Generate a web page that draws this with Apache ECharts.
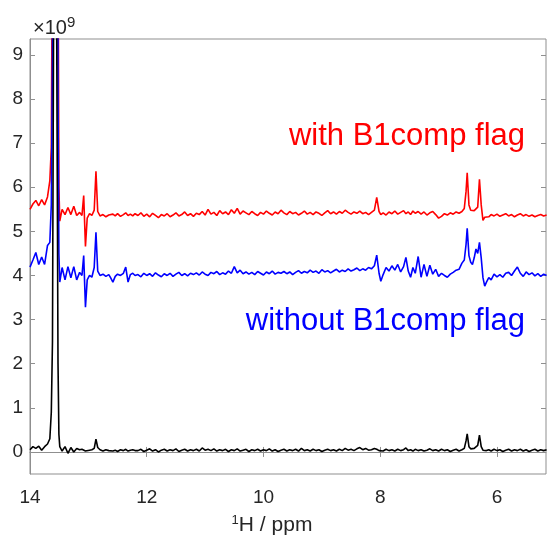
<!DOCTYPE html>
<html>
<head>
<meta charset="utf-8">
<script src="https://cdn.jsdelivr.net/npm/echarts@6/dist/echarts.min.js"></script>
<style>
html,body{margin:0;padding:0;background:#fff;}
#chart{width:547px;height:536px;}
</style>
</head>
<body>
<div id="chart"></div>
<script>
// chemical shift (ppm), shared by all traces
const ppm = [
14.00,13.95,13.90,13.85,13.80,13.75,13.70,13.66,13.635,13.615,13.59,13.57,13.55,13.52,13.505,13.49,13.45,13.40,13.35,13.30,13.25,13.20,13.15,13.11,13.08,13.05,13.02,12.98,12.94,12.90,12.87,12.84,12.80,12.75,12.70,12.65,12.62,12.58,12.54,12.50,12.45,12.40,12.36,12.32,12.28,12.24,12.20,
12.15,12.10,12.05,12.00,11.95,11.90,11.85,11.80,11.75,11.70,
11.65,11.60,11.55,11.50,11.45,11.40,11.35,11.30,11.25,11.20,
11.15,11.10,11.05,11.00,10.95,10.90,10.85,10.80,10.75,10.70,
10.65,10.60,10.55,10.50,10.45,10.40,10.35,10.30,10.25,10.20,
10.15,10.10,10.05,10.00,9.95,9.90,9.85,9.80,9.75,9.70,
9.65,9.60,9.55,9.50,9.45,9.40,9.35,9.30,9.25,9.20,
9.15,9.10,9.05,9.00,8.95,8.90,8.85,8.80,8.75,8.70,
8.65,8.60,8.55,8.50,8.45,8.40,8.35,8.30,8.25,8.20,
8.15,8.10,8.06,8.02,7.99,7.95,7.90,7.85,7.80,7.75,7.70,7.65,7.60,7.56,7.52,7.48,7.44,7.40,7.35,7.30,7.25,7.20,7.15,7.10,7.05,7.00,6.95,6.90,6.85,6.80,6.75,6.70,6.65,6.60,6.56,6.53,6.51,6.48,6.45,6.42,6.39,6.36,6.33,6.30,6.27,6.24,6.21,6.18,6.14,6.10,6.05,6.00,5.95,5.90,5.85,5.80,5.75,5.70,5.65,5.60,5.55,5.50,5.45,5.40,5.35,5.30,5.25,5.20,5.15
];

// intensity (x10^9) with B1comp flag (red)
const withFlag = [
5.50,5.62,5.70,5.58,5.72,5.60,5.78,6.15,6.90,12,60,70,60,12,6.0,5.23,5.50,5.38,5.54,5.38,5.57,5.36,5.43,5.36,5.81,4.66,5.30,5.40,5.36,5.48,6.36,5.45,5.35,5.38,5.33,5.37,5.34,5.39,5.35,5.40,5.34,5.38,5.42,5.36,5.39,5.35,5.40,
5.36,5.42,5.34,5.39,5.33,5.41,5.36,5.31,5.38,5.35,
5.40,5.33,5.37,5.42,5.35,5.38,5.44,5.36,5.40,5.34,
5.41,5.38,5.45,5.37,5.50,5.39,5.43,5.36,5.47,5.40,
5.44,5.38,5.49,5.41,5.52,5.39,5.46,5.42,5.38,5.45,
5.40,5.36,5.43,5.39,5.46,5.41,5.37,5.44,5.40,5.48,
5.42,5.38,5.45,5.40,5.43,5.37,5.41,5.46,5.39,5.43,
5.38,5.44,5.41,5.36,5.42,5.47,5.40,5.44,5.39,5.45,
5.41,5.48,5.43,5.39,5.44,5.41,5.46,5.40,5.43,5.38,
5.43,5.48,5.77,5.45,5.38,5.42,5.37,5.44,5.40,5.46,5.39,5.43,5.47,5.40,5.44,5.38,5.46,5.41,5.45,5.39,5.44,5.37,5.42,5.45,5.38,5.30,5.34,5.40,5.37,5.42,5.39,5.44,5.41,5.45,5.52,5.90,6.33,5.60,5.48,5.52,5.47,5.50,5.55,6.18,5.60,5.25,5.32,5.36,5.33,5.38,5.35,5.39,5.34,5.37,5.40,5.35,5.38,5.33,5.37,5.40,5.35,5.38,5.34,5.37,5.33,5.36,5.38,5.35,5.37
];

// intensity (x10^9) without B1comp flag (blue)
const withoutFlag = [
4.19,4.35,4.52,4.25,4.42,4.25,4.68,4.75,5.6,9.0,60,70,60,8.0,4.5,3.85,4.18,3.90,4.20,3.95,4.20,3.90,4.07,4.00,4.45,3.28,3.90,4.00,3.96,4.18,4.98,4.10,4.00,4.03,3.98,4.02,3.95,3.85,3.98,4.03,4.00,4.05,4.19,3.85,4.02,4.05,4.00,
4.02,3.97,4.05,4.00,4.04,3.98,4.06,4.01,3.97,4.04,
4.00,4.05,3.98,4.03,4.07,4.00,4.04,3.99,4.05,4.02,
4.06,4.01,4.08,4.03,4.00,4.07,4.04,4.09,4.02,4.06,
4.03,4.10,4.05,4.20,4.06,4.12,4.04,4.08,4.03,4.07,
4.02,4.09,4.05,4.01,4.08,4.04,4.10,4.03,4.07,4.05,
4.09,4.04,4.08,4.02,4.07,4.11,4.05,4.09,4.06,4.12,
4.07,4.10,4.05,4.13,4.08,4.11,4.06,4.10,4.14,4.08,
4.12,4.09,4.15,4.10,4.13,4.17,4.11,4.15,4.12,4.18,
4.15,4.22,4.46,4.05,3.87,4.02,4.18,4.10,4.22,4.12,4.25,4.08,4.20,4.41,4.10,3.96,4.18,4.05,4.43,3.96,4.25,3.98,4.23,4.03,4.14,3.98,4.05,4.00,3.96,4.03,4.07,4.12,4.14,4.28,4.35,4.70,5.07,4.45,4.30,4.25,4.40,4.60,4.50,4.75,4.40,3.95,3.76,3.85,3.95,3.90,4.03,3.97,4.02,3.96,4.05,4.07,4.00,4.10,4.19,4.05,3.98,4.08,4.02,4.06,3.99,4.04,3.98,4.03,4.00
];

// reference spectrum (black)
const reference = [
0.05,0.12,0.08,0.13,0.04,0.12,0.18,0.30,0.9,2.5,12,70,12,2.0,0.4,0.12,0.02,0.12,-0.03,0.10,0.00,0.08,0.05,0.06,0.05,0.02,0.05,0.04,0.05,0.08,0.29,0.10,0.05,0.02,0.05,0.03,0.06,0.02,0.04,0.01,0.05,0.03,0.06,0.02,0.04,0.05,0.03,
0.03,0.06,0.01,0.04,0.07,0.02,0.05,0.00,0.04,0.06,
0.02,0.05,0.03,0.07,0.01,0.04,0.06,0.02,0.05,0.03,
0.06,0.02,0.09,0.04,0.06,0.03,0.07,0.02,0.05,0.03,
0.06,0.01,0.05,0.03,0.07,0.02,0.04,0.06,0.01,0.05,
0.03,0.06,0.02,0.05,0.03,0.07,0.02,0.05,0.01,0.04,
0.06,0.02,0.05,0.03,0.06,0.02,0.08,0.03,0.05,0.02,
0.06,0.03,0.05,0.01,0.04,0.06,0.03,0.05,0.02,0.06,
0.03,0.08,0.04,0.06,0.03,0.07,0.10,0.05,0.08,0.04,
0.05,0.08,0.06,0.03,0.05,0.02,0.06,0.03,0.05,0.02,0.06,0.03,0.05,0.09,0.03,0.05,0.02,0.06,0.03,0.05,0.02,0.04,0.07,0.03,0.05,0.02,0.06,0.03,0.05,0.01,0.04,0.06,0.02,0.05,0.08,0.25,0.41,0.12,0.07,0.05,0.08,0.06,0.15,0.38,0.12,0.04,0.06,0.03,0.05,0.02,0.06,0.03,0.05,0.01,0.04,0.06,0.02,0.05,0.03,0.06,0.02,0.05,0.01,0.04,0.06,0.02,0.05,0.03,0.05
];

const xTicks = [6, 8, 10, 12, 14];
const yTicks = [0, 1, 2, 3, 4, 5, 6, 7, 8, 9];
const labelWith = 'with B1comp flag';
const labelWithout = 'without B1comp flag';

const FONT = 'Liberation Sans, Arial, Helvetica, sans-serif';
const AXIS_GRAY = '#8f8f8f';
const TEXT = '#262626';

function pairs(ys) { return ppm.map((x, i) => [x, ys[i]]); }

const chart = echarts.init(document.getElementById('chart'), null, {renderer: 'canvas'});

const tickCommon = {inside: true, length: 5, lineStyle: {color: AXIS_GRAY, width: 1}};

chart.setOption({
  animation: false,
  backgroundColor: '#fff',
  textStyle: {fontFamily: FONT},
  grid: {left: 30, right: 1, top: 39, bottom: 62, show: true, borderColor: AXIS_GRAY, borderWidth: 1, containLabel: false, outerBoundsMode: 'none'},
  xAxis: [{
    type: 'value', inverse: true, min: 5.16, max: 14,
    splitLine: {show: false},
    axisLine: {show: true, lineStyle: {color: AXIS_GRAY}},
    axisTick: Object.assign({customValues: xTicks}, tickCommon),
    axisLabel: {customValues: xTicks, color: TEXT, fontSize: 19, margin: 14, fontFamily: FONT},
    name: '{s|1}H / ppm',
    nameLocation: 'middle', nameGap: 40,
    nameTextStyle: {color: TEXT, fontSize: 21, fontFamily: FONT, padding: [0, 32, 0, 0],
      rich: {s: {fontSize: 13, color: TEXT, fontFamily: FONT, padding: [0, 0, 9, 0]}}}
  }, {
    type: 'value', inverse: true, min: 5.16, max: 14, position: 'top',
    splitLine: {show: false}, axisLine: {show: false},
    axisTick: Object.assign({customValues: xTicks}, tickCommon),
    axisLabel: {show: false}
  }],
  yAxis: [{
    type: 'value', min: -0.5, max: 9.36,
    splitLine: {show: false},
    axisLine: {show: true, lineStyle: {color: AXIS_GRAY}},
    axisTick: Object.assign({customValues: yTicks}, tickCommon),
    axisLabel: {customValues: yTicks, color: TEXT, fontSize: 19, margin: 7, fontFamily: FONT},
    name: '×10{s|9}',
    nameLocation: 'end', nameGap: -2,
    nameTextStyle: {color: TEXT, fontSize: 20, fontFamily: FONT, align: 'left', verticalAlign: 'bottom', padding: [0, 0, 0, 3],
      rich: {s: {fontSize: 15, color: TEXT, fontFamily: FONT, padding: [0, 0, 11, 0]}}}
  }, {
    type: 'value', min: -0.5, max: 9.36, position: 'right',
    splitLine: {show: false}, axisLine: {show: false},
    axisTick: Object.assign({customValues: yTicks}, tickCommon),
    axisLabel: {show: false}
  }],
  series: [
    {name: labelWith, type: 'line', data: pairs(withFlag), showSymbol: false, symbol: 'none',
      lineStyle: {color: '#ff0000', width: 1.6}, itemStyle: {color: '#ff0000'}, clip: true, z: 2},
    {name: labelWithout, type: 'line', data: pairs(withoutFlag), showSymbol: false, symbol: 'none',
      lineStyle: {color: '#0000ff', width: 1.6}, itemStyle: {color: '#0000ff'}, clip: true, z: 3},
    {name: 'reference', type: 'line', data: pairs(reference), showSymbol: false, symbol: 'none',
      lineStyle: {color: '#000000', width: 1.6}, itemStyle: {color: '#000000'}, clip: true, z: 4}
  ],
  graphic: [
    {type: 'text', right: 22, top: 121, style: {text: labelWith, fill: '#ff0000', fontSize: 31, fontFamily: FONT}},
    {type: 'text', right: 22, top: 306, style: {text: labelWithout, fill: '#0000ff', fontSize: 31, fontFamily: FONT}}
  ]
});
</script>
</body>
</html>
